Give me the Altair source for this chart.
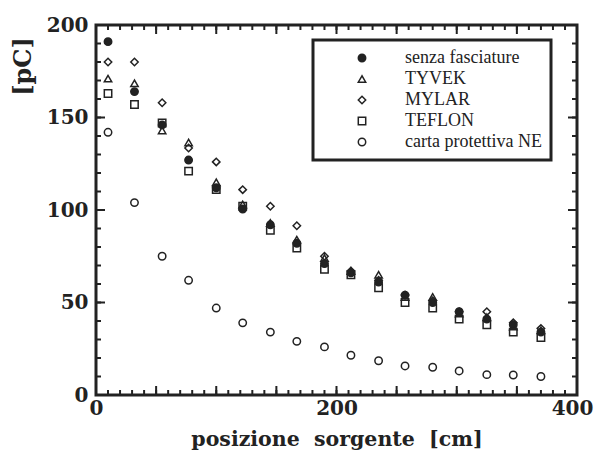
import altair as alt
import pandas as pd

# ---- data ----
x_pos = [10, 32, 55, 77, 100, 122, 145, 167, 190, 212, 235, 257, 280, 302, 325, 347, 370]
series_names = ["senza fasciature", "TYVEK", "MYLAR", "TEFLON", "carta protettiva NE"]
senza = [191, 164, 146, 127, 112, 100.5, 92, 82, 71, 66, 61, 54, 50, 45, 41, 38, 34]
tyvek = [171, 168.5, 143, 136.5, 115, 103, 93, 84, 74, 67, 65, 53, 53, 44, 42, 37, 35]
mylar = [180, 180, 158, 133.5, 126, 111, 102, 91.5, 75, 67, 62, 54, 51, 45, 45, 39, 36]
teflon = [163, 157, 147, 121, 111, 102, 89, 79.5, 68, 65, 58, 50, 47, 41, 38, 34, 31]
carta = [142, 104, 75, 62, 47, 39, 34, 29, 26, 21.5, 18.5, 15.7, 15, 13, 11, 10.8, 10]

x_labels = [0, 200, 400]
y_labels = [0, 50, 100, 150, 200]
x_minor = list(range(0, 401, 10))
x_major = list(range(0, 401, 50))
y_minor = list(range(0, 201, 10))
y_major = list(range(0, 201, 50))

X_MIN, X_MAX, Y_MIN, Y_MAX = 0, 400, 0, 200

shapes = ["circle", "triangle-up", "diamond", "square", "circle"]
fills = ["#222222", "transparent", "transparent", "transparent", "transparent"]
strokes = ["#222222"] * 5

# one table: measured points + the frame tick positions
rows = []
for name, vals in zip(series_names, [senza, tyvek, mylar, teflon, carta]):
    for xv, yv in zip(x_pos, vals):
        rows.append({"kind": "pt", "pos": xv, "val": yv, "series": name, "major": False})
for t in x_minor:
    rows.append({"kind": "xb", "pos": t, "val": Y_MIN, "series": None, "major": t in x_major})
    rows.append({"kind": "xt", "pos": t, "val": Y_MAX, "series": None, "major": t in x_major})
for t in y_minor:
    rows.append({"kind": "yl", "pos": X_MIN, "val": t, "series": None, "major": t in y_major})
    rows.append({"kind": "yr", "pos": X_MAX, "val": t, "series": None, "major": t in y_major})
df = pd.DataFrame(rows)

W, H = 481, 370
INK = "#222222"
SERIF_B = "DejaVu Serif"
MINOR_SIZE, MAJOR_SIZE = 100, 324   # custom path of unit length -> 5 px and 9 px

xs = alt.Scale(domain=[X_MIN, X_MAX], nice=False, zero=False)
ys = alt.Scale(domain=[Y_MIN, Y_MAX], nice=False, zero=False)

x_axis = alt.Axis(
    orient="bottom", values=x_labels, ticks=False, tickSize=0, domain=False, grid=False,
    labelFont=SERIF_B, labelFontSize=20, labelFontWeight="bold", labelColor=INK,
    labelPadding=3, labelFlush=False,
    labelOffset={"condition": {"test": "datum.value == 400", "value": -5}, "value": 0},
    title="posizione\u00a0 sorgente\u00a0 [cm]", titleFont=SERIF_B, titleFontSize=20.5,
    titleFontWeight="bold", titleColor=INK, titleBaseline="alphabetic", titleY=50)
y_axis = alt.Axis(
    orient="left", values=y_labels, ticks=False, tickSize=0, domain=False, grid=False,
    labelFont=SERIF_B, labelFontSize=20, labelFontWeight="bold", labelColor=INK,
    labelPadding=8, labelFlush=False,
    title="[pC]", titleFont=SERIF_B, titleFontSize=24, titleFontWeight="bold",
    titleColor=INK, titleBaseline="alphabetic", titleX=-66, titleY=41, titleAlign="center")

leg = alt.Legend(title=None)
base = alt.Chart(df)

points = base.transform_filter(alt.datum.kind == "pt").mark_point(
    size=55, strokeWidth=1.5, opacity=1).encode(
    x=alt.X("pos:Q", scale=xs, axis=x_axis),
    y=alt.Y("val:Q", scale=ys, axis=y_axis),
    shape=alt.Shape("series:N", scale=alt.Scale(domain=series_names, range=shapes), legend=leg),
    fill=alt.Fill("series:N", scale=alt.Scale(domain=series_names, range=fills), legend=leg),
    stroke=alt.Stroke("series:N", scale=alt.Scale(domain=series_names, range=strokes), legend=leg),
)


def tick_layer(kind, path, major):
    flt = (alt.datum.kind == kind) & (alt.datum.major == True) if major else (alt.datum.kind == kind)
    return base.transform_filter(flt).mark_point(
        shape=path, size=MAJOR_SIZE if major else MINOR_SIZE,
        filled=False, stroke=INK, strokeWidth=2, opacity=1).encode(
        x=alt.X("pos:Q", scale=xs, axis=x_axis),
        y=alt.Y("val:Q", scale=ys, axis=y_axis))


paths = {"xb": "M0,0V-1", "xt": "M0,0V1", "yl": "M0,0H1", "yr": "M0,0H-1"}
layers = []
for k, p in paths.items():
    layers.append(tick_layer(k, p, False))
    layers.append(tick_layer(k, p, True))
layers.append(points)

chart = alt.layer(*layers).properties(
    width=W, height=H,
    autosize=alt.AutoSizeParams(type="none"),
    padding={"left": 88, "top": 17, "right": 17, "bottom": 55},
).configure_view(
    stroke=INK, strokeWidth=3
).configure_legend(
    orient="none", legendX=217, legendY=15, padding=9,
    strokeColor=INK, strokeWidth=3, fillColor="white",
    labelFont="Liberation Serif", labelFontSize=18, labelColor=INK,
    symbolOffset=31, labelOffset=34, rowPadding=3,
    symbolSize=55, symbolStrokeWidth=1.5,
)

chart.save("out.html", embed_options={"renderer": "svg", "actions": False})
